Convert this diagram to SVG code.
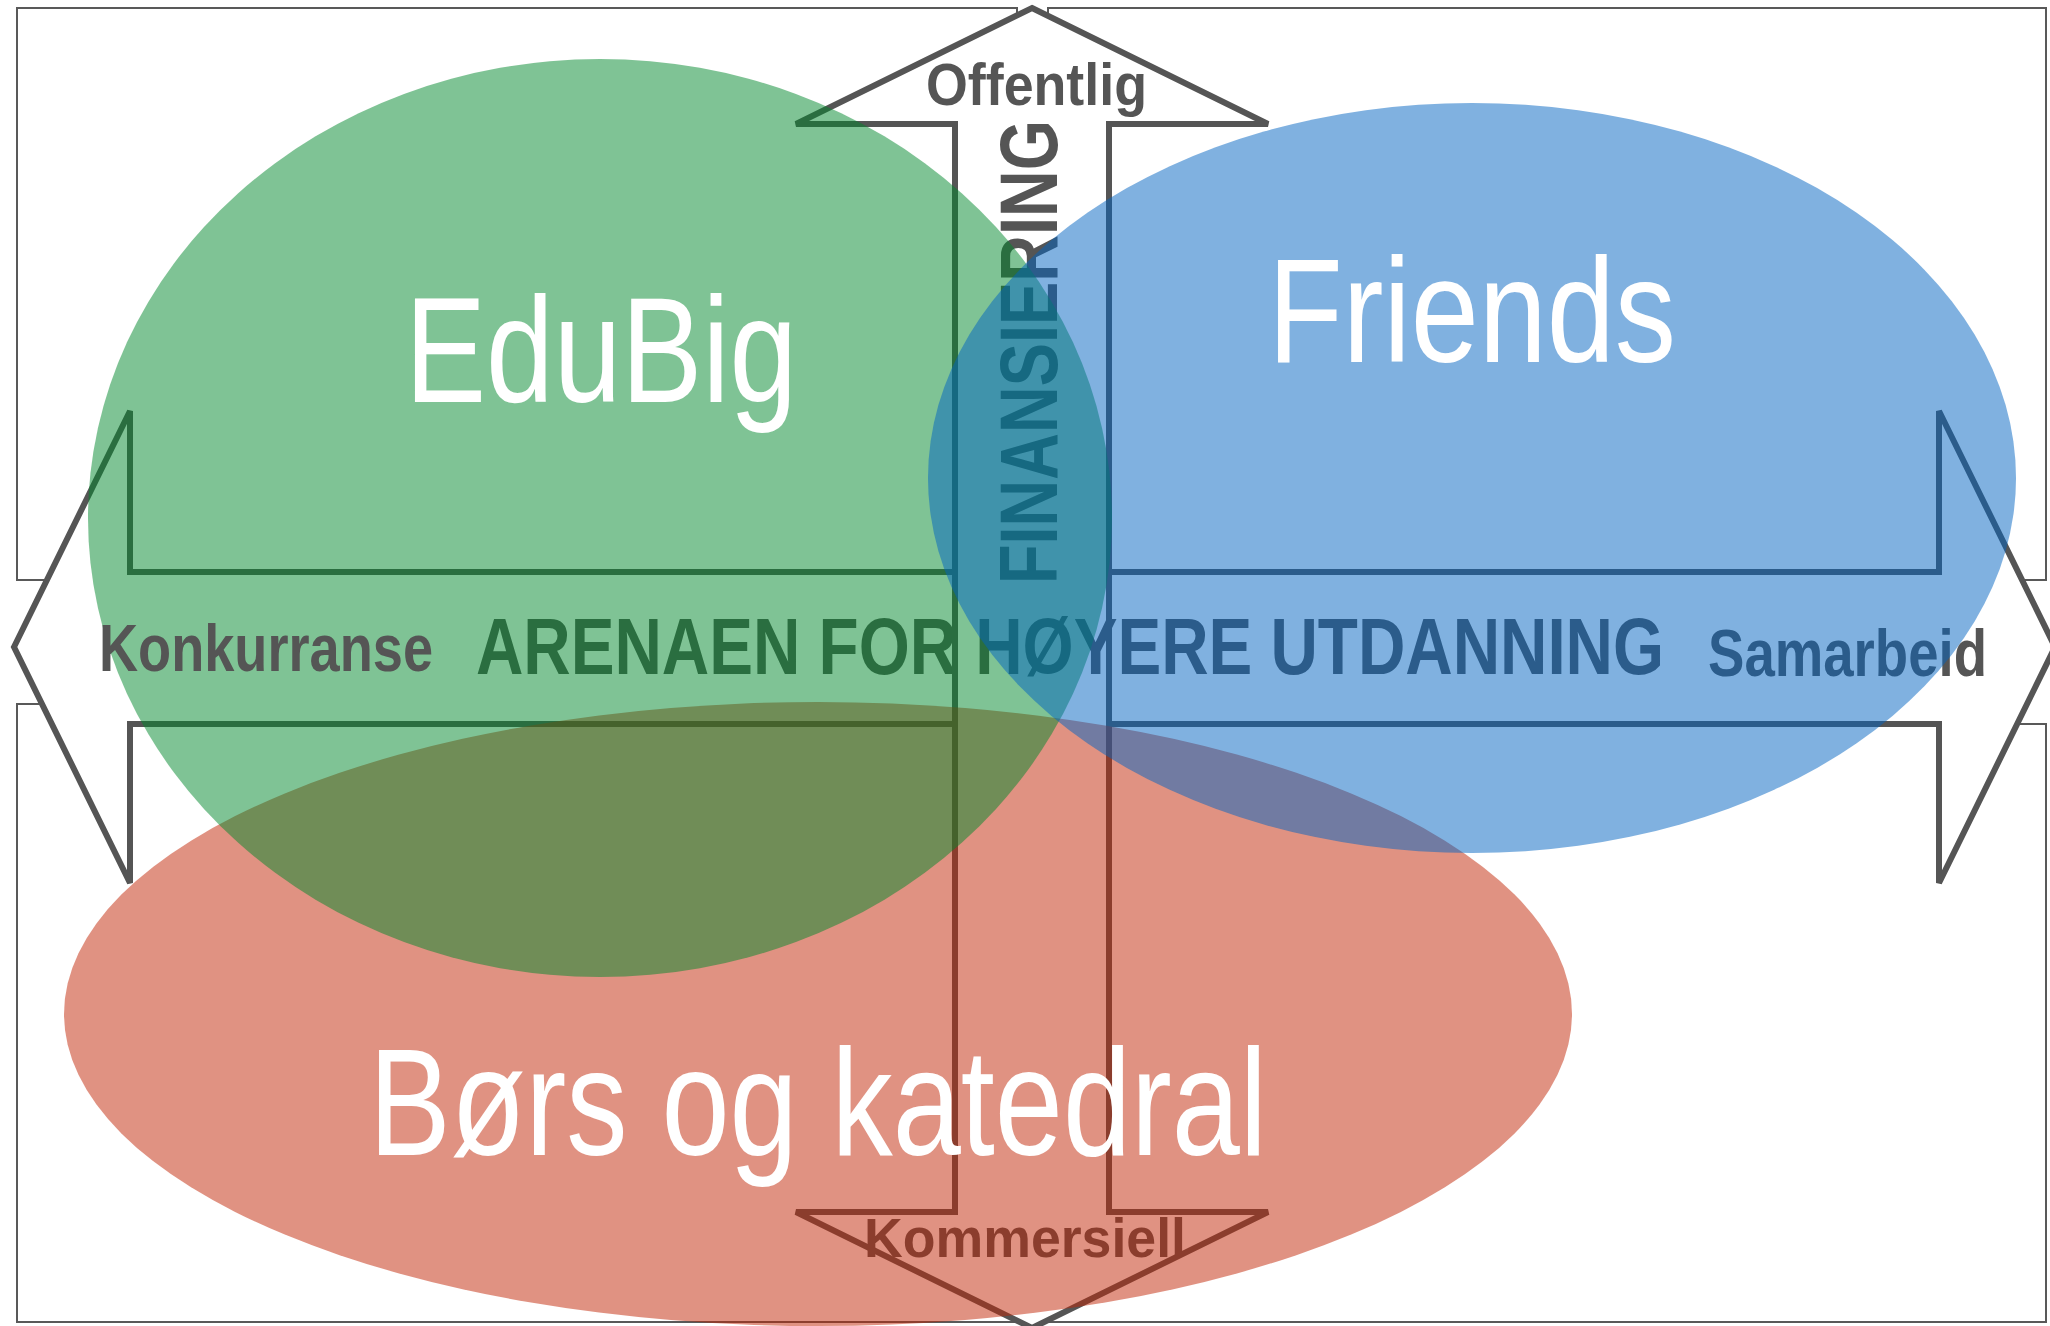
<svg xmlns="http://www.w3.org/2000/svg" width="2050" height="1326" viewBox="0 0 2050 1326">
  <style>
    .frame { fill: none; stroke: #595959; stroke-width: 2; }
    .arrow { fill: #ffffff; stroke: #555555; stroke-width: 6; stroke-linejoin: miter; }
    .axis { font-family: "Liberation Sans Narrow", "Liberation Sans", Arial, sans-serif; font-weight: bold; fill: #555555; }
    .title { font-family: "Liberation Sans Narrow", "Liberation Sans", Arial, sans-serif; fill: #ffffff; }
    .set { fill-opacity: 0.5; }
  </style>

  <rect x="0" y="0" width="2050" height="1326" fill="#ffffff"/>

  <!-- quadrant frames -->
  <g id="frames">
    <rect class="frame" x="17" y="8" width="1000" height="572"/>
    <rect class="frame" x="1048" y="8" width="998" height="572"/>
    <rect class="frame" x="17" y="704" width="1000" height="618"/>
    <rect class="frame" x="1048" y="724" width="998" height="598"/>
  </g>

  <!-- axis arrows -->
  <g id="connectors">
    <polygon id="axis-horizontal" class="arrow" points="14,647 130,411 130,572 1939,572 1939,411 2055,647 1939,883 1939,724 130,724 130,883"/>
    <polygon id="axis-vertical" class="arrow" points="1032,8 1268,124 1109,124 1109,1212 1268,1212 1032,1328 796,1212 955,1212 955,124 796,124"/>
  </g>

  <!-- axis labels (lying under the sets) -->
  <g id="axis-labels">
    <text class="axis" x="926" y="105" font-size="60" textLength="221" lengthAdjust="spacingAndGlyphs">Offentlig</text>
    <text class="axis" transform="translate(1057,584) rotate(-90)" x="0" y="0" font-size="81" textLength="464" lengthAdjust="spacingAndGlyphs">FINANSIERING</text>
    <text class="axis" x="476" y="674" font-size="80" textLength="1188" lengthAdjust="spacingAndGlyphs">ARENAEN FOR HØYERE UTDANNING</text>
    <text class="axis" x="1708" y="676" font-size="67" textLength="279" lengthAdjust="spacingAndGlyphs">Samarbeid</text>
    <text class="axis" x="864" y="1257" font-size="56" textLength="322" lengthAdjust="spacingAndGlyphs">Kommersiell</text>
  </g>

  <!-- sets -->
  <g id="node-bors">
    <ellipse class="set" cx="818" cy="1014" rx="754" ry="312" fill="#c12505"/>
  </g>
  <g id="node-edubig">
    <ellipse class="set" cx="600" cy="518" rx="512" ry="459" fill="#00882c"/>
  </g>
  <g id="node-friends">
    <ellipse class="set" cx="1472" cy="478" rx="544" ry="375" fill="#0264c2"/>
  </g>

  <text class="axis" x="99" y="671" font-size="67" textLength="334" lengthAdjust="spacingAndGlyphs">Konkurranse</text>

  <!-- set titles -->
  <g id="titles">
    <text class="title" x="405" y="402" font-size="150" textLength="392" lengthAdjust="spacingAndGlyphs">EduBig</text>
    <text class="title" x="1268" y="362" font-size="148" textLength="408" lengthAdjust="spacingAndGlyphs">Friends</text>
    <text class="title" x="369" y="1155" font-size="152" textLength="898" lengthAdjust="spacingAndGlyphs">Børs og katedral</text>
  </g>
</svg>
